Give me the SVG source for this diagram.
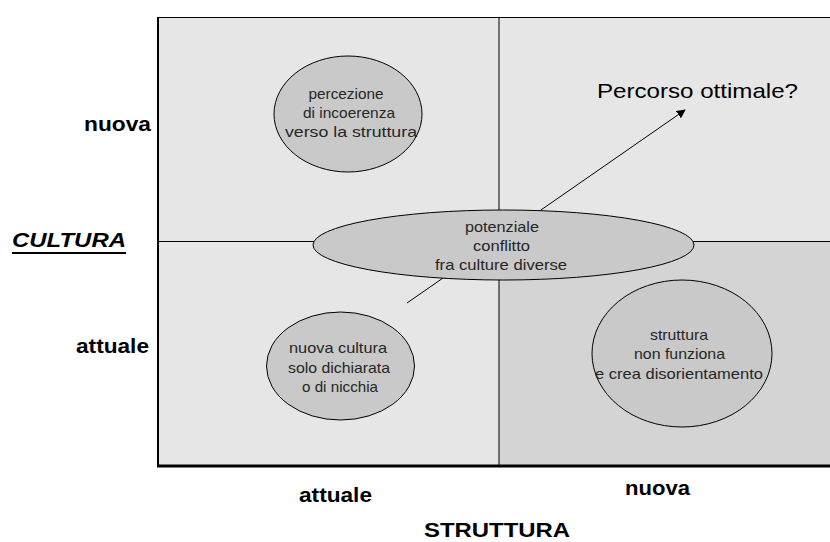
<svg xmlns="http://www.w3.org/2000/svg" width="830" height="542" viewBox="0 0 830 542">
  <style>
    .quad { fill: #e6e6e6; stroke: none; }
    .quad-dark { fill: #d4d4d4; stroke: none; }
    .grid { stroke: #000; stroke-width: 1; fill: none; }
    .bubble { fill: #c9c9c9; stroke: #000; stroke-width: 1; }
    .btext { font-family: "Liberation Sans", Arial, sans-serif; font-size: 15px; fill: #262626; text-anchor: middle; }
    .axis { font-family: "Liberation Sans", Arial, sans-serif; font-size: 21px; font-weight: bold; fill: #000; }
    .title { font-family: "Liberation Sans", Arial, sans-serif; font-size: 21px; fill: #000; }
    .link { stroke: #000; stroke-width: 1; fill: none; }
  </style>
  <defs>
    <marker id="head" viewBox="0 0 10 10" refX="9" refY="5" markerWidth="9" markerHeight="9" markerUnits="userSpaceOnUse" orient="auto">
      <path d="M0,0 L10,5 L0,10 z" fill="#000"/>
    </marker>
  </defs>

  <rect width="830" height="542" fill="#fff"/>

  <!-- quadrant matrix -->
  <g id="matrix">
    <rect class="quad" x="158" y="17" width="672" height="449"/>
    <rect class="quad-dark" x="499" y="241" width="331" height="225"/>
    <line class="grid" x1="158" y1="17.5" x2="830" y2="17.5"/>
    <line class="grid" x1="499" y1="17" x2="499" y2="466"/>
    <line class="grid" x1="158" y1="241.5" x2="830" y2="241.5"/>
    <line x1="158" y1="17" x2="158" y2="467" stroke="#000" stroke-width="2"/>
    <line x1="157" y1="466" x2="830" y2="466" stroke="#000" stroke-width="3"/>
  </g>

  <!-- axis labels -->
  <g id="axis-cultura">
    <text class="axis" x="151" y="131" text-anchor="end" textLength="67" lengthAdjust="spacingAndGlyphs">nuova</text>
    <text class="axis" x="12" y="247" font-style="italic" textLength="114" lengthAdjust="spacingAndGlyphs">CULTURA</text>
    <line x1="12" y1="253" x2="126" y2="253" stroke="#000" stroke-width="2"/>
    <text class="axis" x="149" y="353" text-anchor="end" textLength="73" lengthAdjust="spacingAndGlyphs">attuale</text>
  </g>
  <g id="axis-struttura">
    <text class="axis" x="299" y="502" textLength="73" lengthAdjust="spacingAndGlyphs">attuale</text>
    <text class="axis" x="625" y="495" textLength="65" lengthAdjust="spacingAndGlyphs">nuova</text>
    <text class="axis" x="424" y="537" font-size="20" textLength="146" lengthAdjust="spacingAndGlyphs">STRUTTURA</text>
  </g>

  <!-- connectors -->
  <g id="connectors">
    <line class="link" x1="407" y1="303" x2="685" y2="110" marker-end="url(#head)"/>
  </g>

  <!-- nodes -->
  <g id="node-incoerenza">
    <ellipse class="bubble" cx="348" cy="114" rx="74" ry="58"/>
    <text class="btext" x="346" y="99" textLength="75" lengthAdjust="spacingAndGlyphs">percezione</text>
    <text class="btext" x="349" y="118" textLength="92" lengthAdjust="spacingAndGlyphs">di incoerenza</text>
    <text class="btext" x="351" y="137" textLength="132" lengthAdjust="spacingAndGlyphs">verso la struttura</text>
  </g>

  <g id="node-conflitto">
    <ellipse class="bubble" cx="503.5" cy="245" rx="190.5" ry="35"/>
    <text class="btext" x="502" y="232" textLength="74" lengthAdjust="spacingAndGlyphs">potenziale</text>
    <text class="btext" x="501.5" y="251" textLength="57" lengthAdjust="spacingAndGlyphs">conflitto</text>
    <text class="btext" x="501" y="270" textLength="132" lengthAdjust="spacingAndGlyphs">fra culture diverse</text>
  </g>

  <g id="node-nicchia">
    <ellipse class="bubble" cx="340.5" cy="366" rx="74" ry="54"/>
    <text class="btext" x="338" y="353" textLength="98" lengthAdjust="spacingAndGlyphs">nuova cultura</text>
    <text class="btext" x="339" y="373" textLength="102" lengthAdjust="spacingAndGlyphs">solo dichiarata</text>
    <text class="btext" x="340" y="392" textLength="76" lengthAdjust="spacingAndGlyphs">o di nicchia</text>
  </g>

  <g id="node-disorientamento">
    <ellipse class="bubble" cx="682" cy="353.5" rx="90" ry="73.5"/>
    <text class="btext" x="679" y="340" textLength="58" lengthAdjust="spacingAndGlyphs">struttura</text>
    <text class="btext" x="679.5" y="359" textLength="91" lengthAdjust="spacingAndGlyphs">non funziona</text>
    <text class="btext" x="679" y="379" textLength="168" lengthAdjust="spacingAndGlyphs">e crea disorientamento</text>
  </g>

  <g id="label-percorso">
    <text class="title" x="597" y="98" textLength="201" lengthAdjust="spacingAndGlyphs">Percorso ottimale?</text>
  </g>
</svg>
